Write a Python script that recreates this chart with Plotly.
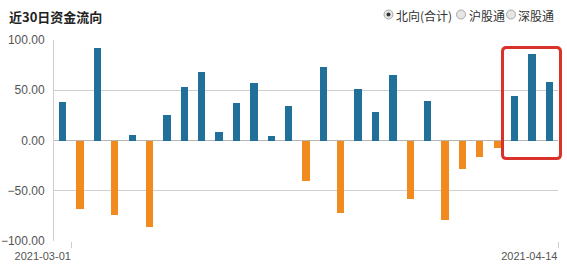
import plotly.graph_objects as go

# ---- data ----
values = [38, -68, 92, -74, 5, -86, 25, 53, 68, 8,
          37, 57, 4, 34, -40, 73, -72, 51, 28, 65,
          -58, 39, -79, -28, -16, -7, 44, 86, 58]
first_date = "2021-03-01"
last_date = "2021-04-14"
y_ticks = [-100, -50, 0, 50, 100]
title_text = "近30日资金流向"
legend_items = ["北向(合计)", "沪股通", "深股通"]

BLUE = "#21709a"
ORANGE = "#f28b1f"

x = list(range(len(values)))
colors = [BLUE if v >= 0 else ORANGE for v in values]
n = len(values)

W, H = 567, 280
L, R, T, B = 54, 9, 40, 39
pw, ph = W - L - R, H - T - B

def px_to_paper(px, py):
    return (px - L) / pw, (H - B - py) / ph

fig = go.Figure()
fig.add_trace(go.Bar(x=x, y=values, marker=dict(color=colors, line=dict(width=0)),
                     width=0.42, hoverinfo="x+y"))

fig.update_layout(
    width=W, height=H,
    margin=dict(l=L, r=R, t=T, b=B),
    paper_bgcolor="white", plot_bgcolor="white",
    showlegend=False,
    font=dict(family="Liberation Sans, Arial, sans-serif", size=12, color="#555"),
    bargap=0,
)
fig.update_xaxes(range=[-0.5, n - 0.5], showgrid=False, zeroline=False,
                 tickvals=[0.5, n - 0.5], ticktext=[first_date, last_date],
                 ticks="outside", ticklen=6, tickcolor="#c8ccd4",
                 ticklabelposition="outside left", ticklabelstandoff=5,
                 tickfont=dict(family="Liberation Sans, Arial", size=11, color="#555"),
                 showline=False, fixedrange=True, automargin=False)
fig.update_yaxes(range=[-100, 100], tickvals=y_ticks,
                 tickformat=".2f", gridcolor="#cfcfcf", gridwidth=1,
                 zeroline=True, zerolinecolor="#b5b5b5", zerolinewidth=1,
                 showline=True, linecolor="#cfcfcf", linewidth=1,
                 ticks="", ticklabelstandoff=6,
                 tickfont=dict(family="Liberation Sans, Arial", size=12, color="#555"),
                 fixedrange=True, automargin=False)

# title
fig.add_annotation(text="<b>" + title_text + "</b>", xref="paper", yref="paper",
                   x=px_to_paper(7, 0)[0], y=px_to_paper(0, 16)[1],
                   xanchor="left", yanchor="middle", showarrow=False,
                   font=dict(family="Noto Sans CJK SC", size=13, color="#222"))

# radio legend
circ_x = [388.5, 461, 511]
text_x = [394, 467, 516]
cy = 14.5
for i, (cxp, tx, label) in enumerate(zip(circ_x, text_x, legend_items)):
    ax, ay = px_to_paper(cxp, cy)
    fig.add_shape(type="circle", xref="paper", yref="paper",
                  xsizemode="pixel", ysizemode="pixel", xanchor=ax, yanchor=ay,
                  x0=-4.5, x1=4.5, y0=-4.5, y1=4.5,
                  line=dict(color="#a8a8a8", width=1), fillcolor="#e6e6e6")
    if i == 0:
        fig.add_shape(type="circle", xref="paper", yref="paper",
                      xsizemode="pixel", ysizemode="pixel", xanchor=ax, yanchor=ay,
                      x0=-2, x1=2, y0=-2, y1=2,
                      line=dict(color="#333", width=0), fillcolor="#333")
    tpx, tpy = px_to_paper(tx, 15)
    fig.add_annotation(text=label, xref="paper", yref="paper", x=tpx, y=tpy,
                       xanchor="left", yanchor="middle", showarrow=False,
                       font=dict(family="Noto Sans CJK SC", size=12, color="#333"))

# red highlight around last three bars (rounded)
x0p, y0p = px_to_paper(502.5, 158.5)
x1p, y1p = px_to_paper(560.5, 47.5)
rx, ry = 4 / pw, 4 / ph
path = (f"M {x0p+rx},{y1p} L {x1p-rx},{y1p} Q {x1p},{y1p} {x1p},{y1p-ry} "
        f"L {x1p},{y0p+ry} Q {x1p},{y0p} {x1p-rx},{y0p} "
        f"L {x0p+rx},{y0p} Q {x0p},{y0p} {x0p},{y0p+ry} "
        f"L {x0p},{y1p-ry} Q {x0p},{y1p} {x0p+rx},{y1p} Z")
fig.add_shape(type="path", path=path, xref="paper", yref="paper",
              line=dict(color="#d8322a", width=3))

fig.write_html("out.html")
